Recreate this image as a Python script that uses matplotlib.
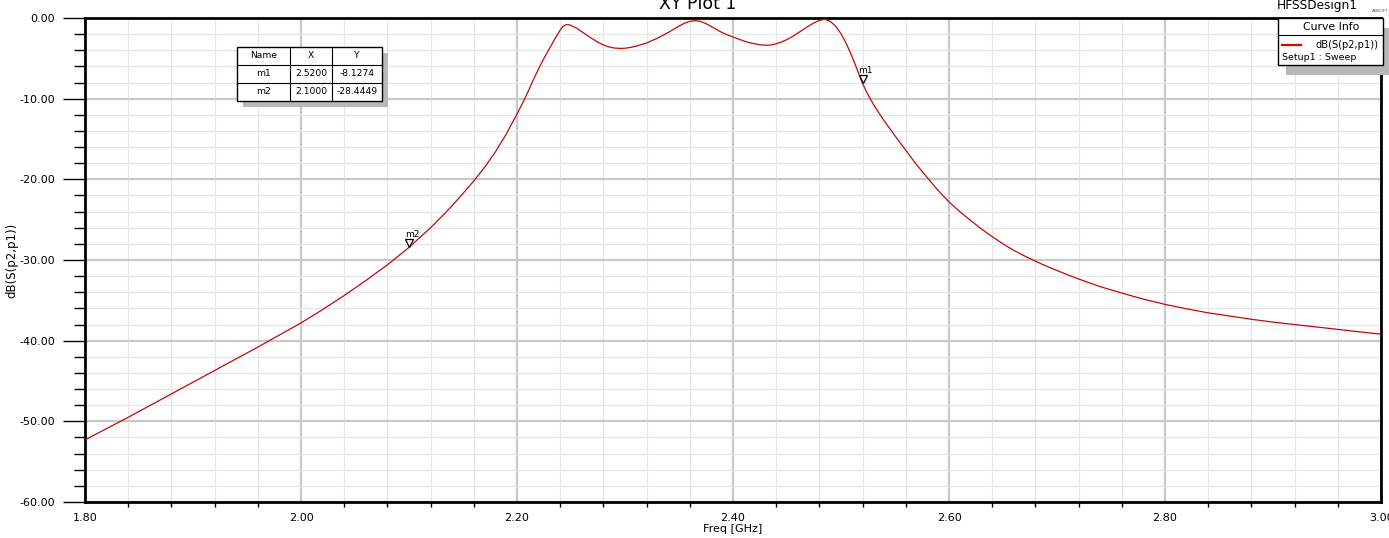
import matplotlib
matplotlib.use("Agg")
import matplotlib.pyplot as plt
from matplotlib.ticker import MultipleLocator, FormatStrFormatter
from matplotlib.transforms import offset_copy
from matplotlib.patches import Rectangle
from matplotlib.lines import Line2D

freq = [1.80, 1.82, 1.84, 1.86, 1.88, 1.90, 1.92, 1.94, 1.96, 1.98, 2.00, 2.02, 2.04,
        2.06, 2.08, 2.10, 2.12, 2.13, 2.14, 2.15, 2.16, 2.17, 2.18, 2.19,
        2.200, 2.205, 2.210, 2.215, 2.220, 2.225, 2.230, 2.235, 2.240, 2.2425, 2.245,
        2.2475, 2.250, 2.255, 2.260, 2.265, 2.270, 2.275, 2.280, 2.285, 2.290, 2.295,
        2.300, 2.305, 2.310, 2.315, 2.320, 2.325, 2.330, 2.335, 2.340, 2.345, 2.350,
        2.355, 2.360, 2.365, 2.370, 2.375, 2.380, 2.385, 2.390, 2.395, 2.400, 2.405,
        2.410, 2.415, 2.420, 2.425, 2.430, 2.435, 2.440, 2.445, 2.450, 2.455, 2.460,
        2.465, 2.470, 2.475, 2.480, 2.485, 2.490, 2.495, 2.500, 2.505, 2.510, 2.515,
        2.520, 2.525, 2.530, 2.535, 2.540, 2.55, 2.56, 2.57, 2.58, 2.59, 2.60, 2.61,
        2.62, 2.63, 2.64, 2.65, 2.66, 2.67, 2.68, 2.69, 2.70, 2.71, 2.72, 2.74, 2.76, 2.78,
        2.80, 2.82, 2.84, 2.86, 2.88, 2.90, 2.92, 2.94, 2.96, 2.98, 3.00]
s21_db = [-52.3, -50.9, -49.5, -48.05, -46.6, -45.15, -43.7, -42.25, -40.8, -39.3, -37.8,
          -36.15, -34.4, -32.55, -30.6, -28.44, -26.0, -24.65, -23.25, -21.75, -20.2, -18.5,
          -16.6, -14.4,
          -11.9, -10.6, -9.2, -7.7, -6.3, -5.0, -3.8, -2.6, -1.5, -1.05, -0.85,
          -0.82, -0.92, -1.25, -1.7, -2.15, -2.6, -3.0, -3.35, -3.58, -3.72, -3.77,
          -3.75, -3.65, -3.5, -3.3, -3.1, -2.8, -2.5, -2.15, -1.8, -1.4, -1.0,
          -0.65, -0.42, -0.33, -0.42, -0.7, -1.05, -1.45, -1.8, -2.1, -2.35, -2.6,
          -2.85, -3.05, -3.2, -3.32, -3.38, -3.35, -3.2, -2.97, -2.67, -2.3, -1.87,
          -1.43, -1.0, -0.6, -0.3, -0.15, -0.42, -1.0, -1.95, -3.2, -4.7, -6.4,
          -8.13, -9.5, -10.7, -11.75, -12.75, -14.6, -16.4, -18.2, -19.8, -21.4, -22.8, -24.0,
          -25.1, -26.15, -27.1, -28.0, -28.8, -29.5, -30.15, -30.75, -31.3, -31.85, -32.35,
          -33.3, -34.1, -34.85, -35.5, -36.05, -36.55, -36.95, -37.35, -37.7, -38.0, -38.3,
          -38.6, -38.9, -39.2]

marker_names = ["m1", "m2"]
marker_x = [2.5200, 2.1000]
marker_y = [-8.1274, -28.4449]

W, H = 1389, 538
plt.rcParams['font.family'] = ['DejaVu Sans']


def fx(px):
    return px / W


def fy(py):
    return 1 - py / H


fig = plt.figure(figsize=(W / 100, H / 100), dpi=100)
ax = fig.add_axes([fx(85), fy(502), (1381 - 85) / W, (502 - 18) / H])

ax.plot(freq, s21_db, color='#c00a0a', lw=0.9, zorder=3)

# markers: tip of the triangle sits on the point
tri = offset_copy(ax.transData, fig=fig, y=3, units='points')
ax.plot(marker_x, marker_y, 'v', ms=6, mfc='white', mec='black', mew=0.9,
        transform=tri, zorder=4, clip_on=False)
for n, x, y in zip(marker_names, marker_x, marker_y):
    ax.annotate(n, (x, y), xytext=(-3, 7.5), textcoords='offset points',
                fontsize=6.5, zorder=4)

ax.set_xlim(1.8, 3.0)
ax.set_ylim(-60, 0)
ax.xaxis.set_major_locator(MultipleLocator(0.2))
ax.xaxis.set_minor_locator(MultipleLocator(0.04))
ax.yaxis.set_major_locator(MultipleLocator(10))
ax.yaxis.set_minor_locator(MultipleLocator(2))
ax.xaxis.set_major_formatter(FormatStrFormatter('%.2f'))
ax.yaxis.set_major_formatter(FormatStrFormatter('%.2f'))

ax.set_axisbelow(True)
ax.grid(which='major', color='#c8c8c8', lw=1.6)
ax.grid(which='minor', color='#e6e6e6', lw=0.8)
for sp in ax.spines.values():
    sp.set_linewidth(2)
    sp.set_color('black')

ax.tick_params(axis='y', which='major', length=16, width=1, pad=5.5, labelsize=8)
ax.tick_params(axis='y', which='minor', length=8, width=1)
ax.tick_params(axis='x', which='major', length=0, pad=8, labelsize=8)
ax.tick_params(axis='x', which='minor', length=3.6, width=1)

ax.set_xlabel('Freq [GHz]', fontsize=8, labelpad=1)
ax.set_ylabel('dB(S(p2,p1))', fontsize=8.5, labelpad=1)

fig.text(fx(698), fy(4), 'XY Plot 1', ha='center', va='center', fontsize=12.5)
fig.text(fx(1317), fy(5), 'HFSSDesign1', ha='center', va='center', fontsize=8.7)
fig.text(fx(1380), fy(11), 'ANSOFT', ha='center', va='center', fontsize=3,
         color='#555555')

# marker table
cols = [237, 290, 332, 382]
rows = [47, 65, 83, 101]
fig.add_artist(Rectangle((fx(cols[0] + 6), fy(rows[-1] + 6)), (cols[-1] - cols[0]) / W,
                         (rows[-1] - rows[0]) / H, transform=fig.transFigure,
                         fc='#b8b8b8', ec='none', zorder=5))
fig.add_artist(Rectangle((fx(cols[0]), fy(rows[-1])), (cols[-1] - cols[0]) / W,
                         (rows[-1] - rows[0]) / H, transform=fig.transFigure,
                         fc='white', ec='black', lw=1, zorder=6))
for c in cols[1:-1]:
    fig.add_artist(Line2D([fx(c), fx(c)], [fy(rows[0]), fy(rows[-1])],
                          transform=fig.transFigure, color='black', lw=0.8, zorder=7))
for r in rows[1:-1]:
    fig.add_artist(Line2D([fx(cols[0]), fx(cols[-1])], [fy(r), fy(r)],
                          transform=fig.transFigure, color='black', lw=0.8, zorder=7))
table = [["Name", "X", "Y"]]
for n, x, y in zip(marker_names, marker_x, marker_y):
    table.append([n, '%.4f' % x, '%.4f' % y])
for i, row in enumerate(table):
    for j, cell in enumerate(row):
        fig.text(fx((cols[j] + cols[j + 1]) / 2), fy((rows[i] + rows[i + 1]) / 2), cell,
                 ha='center', va='center', fontsize=6.6, zorder=8)

# curve info box
fig.add_artist(Rectangle((fx(1286), fy(75)), (1389 - 1286) / W, 47 / H,
                         transform=fig.transFigure, fc='#b8b8b8', ec='none', zorder=5))
fig.add_artist(Rectangle((fx(1278), fy(65)), (1383 - 1278) / W, 47 / H,
                         transform=fig.transFigure, fc='white', ec='black', lw=1, zorder=6))
fig.add_artist(Line2D([fx(1278), fx(1383)], [fy(35), fy(35)], transform=fig.transFigure,
                      color='black', lw=0.8, zorder=7))
fig.add_artist(Line2D([fx(1282), fx(1301)], [fy(45), fy(45)], transform=fig.transFigure,
                      color='#e00000', lw=1.6, zorder=7))
fig.text(fx(1331), fy(27), 'Curve Info', ha='center', va='center', fontsize=7.8, zorder=8)
fig.text(fx(1316), fy(45), 'dB(S(p2,p1))', ha='left', va='center', fontsize=7.1, zorder=8)
fig.text(fx(1282), fy(57), 'Setup1 : Sweep', ha='left', va='center', fontsize=6.8, zorder=8)

fig.savefig('out.png', dpi=100)
